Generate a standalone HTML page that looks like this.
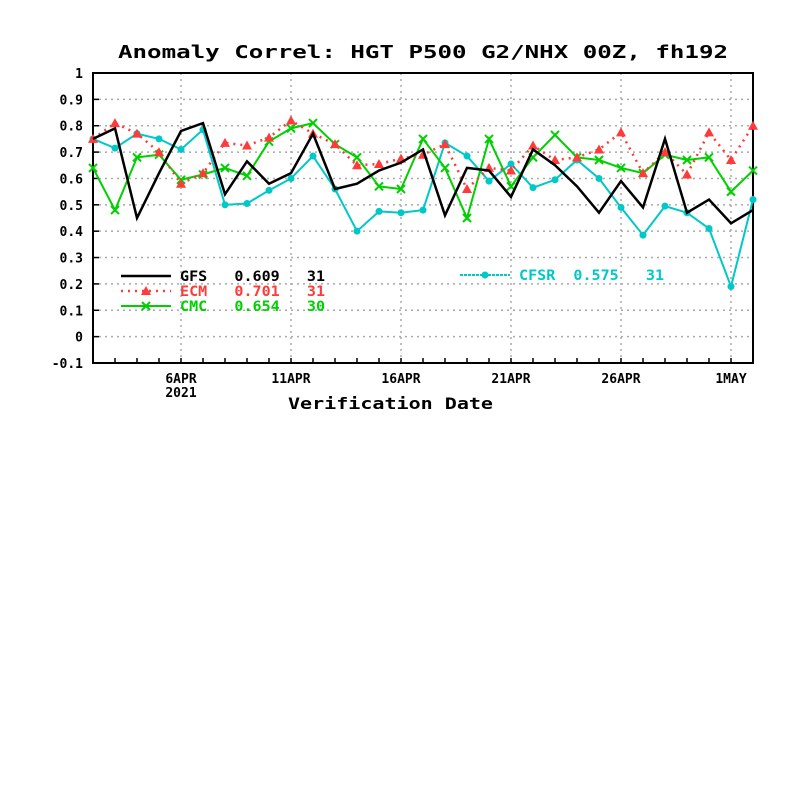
<!DOCTYPE html>
<html><head><meta charset="utf-8"><style>
body{margin:0;background:#fff}
svg text{font-family:"DejaVu Sans Mono","Liberation Mono",monospace;font-weight:bold}
</style></head><body>
<svg id="chart" width="800" height="800" viewBox="0 0 800 800" xmlns="http://www.w3.org/2000/svg">
<rect width="800" height="800" fill="#fff"/>
<text x="118" y="58" textLength="610" lengthAdjust="spacingAndGlyphs" font-size="18" fill="#000">Anomaly Correl: HGT P500 G2/NHX 00Z, fh192</text>
<g id="grid"></g>
<g id="axes"></g>
<g id="series"></g>
<g id="legend"></g>
<text x="288" y="409" textLength="205" lengthAdjust="spacingAndGlyphs" font-size="16" fill="#000">Verification Date</text>
</svg>
<script>
const yTicks=[1,0.9,0.8,0.7,0.6,0.5,0.4,0.3,0.2,0.1,0,-0.1];
const xTickDays=[4,9,14,19,24,29];
const xTickLabels=["6APR","11APR","16APR","21APR","26APR","1MAY"];
const gfs=[0.75,0.79,0.45,0.62,0.78,0.81,0.54,0.665,0.58,0.62,0.77,0.56,0.58,0.63,0.66,0.71,0.46,0.64,0.63,0.53,0.71,0.65,0.57,0.47,0.59,0.49,0.75,0.47,0.52,0.43,0.48];
const ecm=[0.75,0.81,0.77,0.70,0.58,0.62,0.735,0.725,0.755,0.82,0.77,0.73,0.65,0.655,0.675,0.69,0.73,0.56,0.64,0.63,0.725,0.67,0.68,0.71,0.775,0.62,0.70,0.615,0.775,0.67,0.80];
const cmc=[0.64,0.48,0.68,0.69,0.595,0.615,0.64,0.61,0.74,0.79,0.81,0.73,0.68,0.57,0.56,0.75,0.64,0.45,0.75,0.57,0.68,0.765,0.68,0.67,0.64,0.62,0.69,0.67,0.68,0.55,0.63];
const cfsr=[0.75,0.715,0.77,0.75,0.71,0.785,0.50,0.505,0.555,0.60,0.685,0.56,0.40,0.475,0.47,0.48,0.735,0.685,0.59,0.655,0.565,0.595,0.67,0.60,0.49,0.385,0.495,0.47,0.41,0.19,0.52];
const seriesNames=["GFS","ECM","CMC","CFSR"];
const seriesScores=["0.609","0.701","0.654","0.575"];
const seriesCounts=["31","31","30","31"];

const NS="http://www.w3.org/2000/svg";
const X0=93,X1=753,Y0=73,Y1=363;
const xs=d=>X0+d*(X1-X0)/30;
const ys=v=>Y0+(1-v)*(Y1-Y0)/1.1;
function mk(p,tag,at){const e=document.createElementNS(NS,tag);for(const k in at)e.setAttribute(k,at[k]);p.appendChild(e);return e;}
const grid=document.getElementById('grid'),axes=document.getElementById('axes'),ser=document.getElementById('series'),leg=document.getElementById('legend');
yTicks.forEach(v=>{
  if(v<1&&v>-0.1){const l=mk(grid,'line',{x1:X0,x2:X1,y1:ys(v),y2:ys(v),stroke:'#aaa','stroke-dasharray':'2,4','stroke-width':1.5});
  
  }
  const t=mk(axes,'text',{x:83,y:ys(v)+5,'text-anchor':'end','font-size':13,fill:'#000'});t.textContent=String(v);
  
  
  const tk=mk(axes,'line',{x1:X0,x2:X0+6,y1:ys(v),y2:ys(v),stroke:'#000','stroke-width':1.5});
  
  
});
xTickDays.forEach((d,i)=>{
  const l=mk(grid,'line',{x1:xs(d),x2:xs(d),y1:Y0,y2:Y1,stroke:'#aaa','stroke-dasharray':'2,4','stroke-width':1.5});
  
  
  const t=mk(axes,'text',{x:xs(d),y:383,'text-anchor':'middle','font-size':13,fill:'#000'});t.textContent=xTickLabels[i];
  
  
});
const yr=mk(axes,'text',{x:xs(4),y:397,'text-anchor':'middle','font-size':13,fill:'#000'});yr.textContent="2021";


for(let d=0;d<=30;d++){const tk=mk(axes,'line',{x1:xs(d),x2:xs(d),y1:Y1,y2:Y1-5,stroke:'#000','stroke-width':1.5});
  
  }
const fr=mk(axes,'rect',{x:X0,y:Y0,width:X1-X0,height:Y1-Y0,fill:'none',stroke:'#000','stroke-width':2});



function marker(g,type,x,y,col){
  if(type==='tri'){mk(g,'polygon',{points:`${x},${y-5} ${x-5},${y+4} ${x+5},${y+4}`,fill:col});}
  else if(type==='x'){mk(g,'path',{d:`M${x-4},${y-4}L${x+4},${y+4}M${x-4},${y+4}L${x+4},${y-4}`,stroke:col,'stroke-width':2});}
  else if(type==='dot'){mk(g,'circle',{cx:x,cy:y,r:3.5,fill:col});}
}
const cfg=[
 {data:gfs,col:'#000',dash:'',w:2.5,m:null,ly:276,lx:121,tx:180},
 {data:ecm,col:'#ff3a3a',dash:'2,5',w:2.5,m:'tri',ly:291,lx:121,tx:180},
 {data:cmc,col:'#00d000',dash:'',w:2,m:'x',ly:306,lx:121,tx:180},
 {data:cfsr,col:'#00c8c8',dash:'',w:2,m:'dot',ly:275,lx:460,tx:519}
];
const order=[3,2,1,0];
order.forEach(i=>{
  const c=cfg[i];
  const g=mk(ser,'g',{});
  
  
  const pts=c.data.map((v,d)=>xs(d)+','+ys(v)).join(' ');
  mk(g,'polyline',{points:pts,fill:'none',stroke:c.col,'stroke-width':c.w,'stroke-dasharray':c.dash,'stroke-linejoin':'miter'});
  if(c.m)c.data.forEach((v,d)=>marker(g,c.m,xs(d),ys(v),c.col));
});
cfg.forEach((c,i)=>{
  const g=mk(leg,'g',{});
  
  
  mk(g,'line',{x1:c.lx,x2:c.lx+50,y1:c.ly,y2:c.ly,stroke:c.col,'stroke-width':c.w,'stroke-dasharray':c.dash||(i===3?'3,1':'')});
  if(c.m)marker(g,c.m,c.lx+25,c.ly,c.col);
  const t=mk(g,'text',{x:c.tx,y:c.ly+5,'font-size':14,fill:c.col,textLength:145,lengthAdjust:'spacingAndGlyphs'});
  t.textContent=seriesNames[i].padEnd(5,'\u00a0')+'\u00a0'+seriesScores[i]+'\u00a0\u00a0\u00a0'+seriesCounts[i];
});
</script>
</body></html>
